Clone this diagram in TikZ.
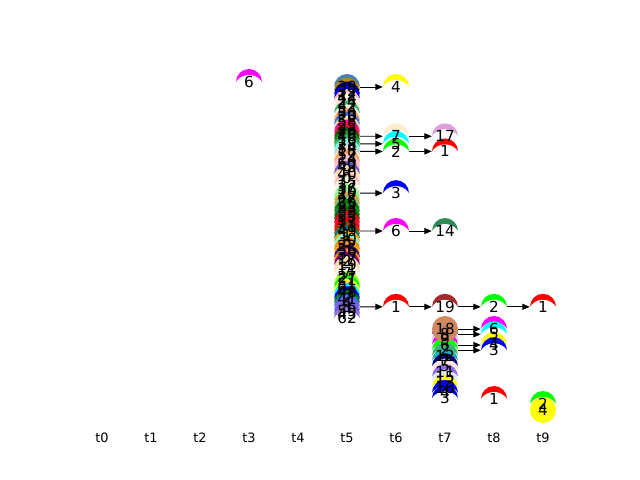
\PassOptionsToPackage{svgnames}{xcolor}
\documentclass[tikz,border=0pt]{standalone}
\usepackage{fontspec}
\setmainfont{DejaVu Sans}
\usetikzlibrary{arrows.meta}
\definecolor{peru}{RGB}{208,136,96}
\newcommand\vcover[1]{\fill[white] ([yshift=-0.255cm]#1.center) circle (0.465cm);}

\begin{document}
\begin{tikzpicture}[x=0.03cm, y=-0.03cm,
    vtx/.style={circle, inner sep=0pt, minimum size=0.78cm, fill=#1},
    lbl/.style={inner sep=0pt, font=\fontsize{13}{13}\selectfont},
    ticklbl/.style={inner sep=0pt, font=\fontsize{11}{11}\selectfont},
    conn/.style={-{Triangle[length=0.22cm, width=0.18cm]}, line width=0.8pt}]
    \useasboundingbox (0,0) rectangle (640,480);

    \def\colfive{38/SteelBlue, 32/DarkGoldenrod, 12/Navy, 44/Blue, 24/Pink, 42/OldLace, 54/MistyRose,
      50/MediumSeaGreen, 20/Beige, 58/SandyBrown, 25/RoyalBlue, 23/Wheat, 29/DeepPink, 46/Crimson,
      16/DarkGreen, 28/ForestGreen, 34/MediumSeaGreen, 18/Aquamarine, 52/LightBlue, 14/PeachPuff,
      60/SandyBrown, 43/Pink, 9/LightPink, 40/SlateBlue, 0/Wheat, 15/Bisque, 37/LightPink, 36/Beige,
      10/OldLace, 47/PaleGreen, 26/LightGreen, 55/Goldenrod, 33/DarkSeaGreen, 53/Green, 35/ForestGreen,
      57/DarkGreen, 13/Red, 31/Crimson, 49/Red, 1/SaddleBrown, 30/Teal, 5/Orange, 22/Aquamarine,
      56/DarkOrange, 39/Orange, 17/Indigo, 2/DarkOrange, 19/Purple, 11/Wheat, 7/PeachPuff, 27/Beige,
      21/White, 51/GreenYellow, 61/Lime, 48/Yellow, 6/Cyan, 41/Blue, 4/Green, 8/RoyalBlue,
      59/MediumSlateBlue, 45/SlateBlue, 62/MediumPurple}
    \def\colseven{8/MediumBlue, 9/Thistle, 6/Magenta, 2/Lime, 12/MediumSeaGreen, 7/LightSeaGreen,
      5/Navy, 11/MistyRose, 15/MediumPurple, 13/Lavender, 16/Yellow, 4/Blue, 3/MediumBlue}

    \node[vtx=Magenta] (b6) at (249, 82) {}; \vcover{b6}

    \foreach \lab/\col [count=\k from 0] in \colfive {
        \node[vtx=\col] (c\k) at (347, {87+3.79*\k}) {}; \vcover{c\k}
    }

    \node[vtx=Yellow] (e4) at (396, 87) {}; \vcover{e4}
    \node[vtx=BlanchedAlmond] (e7) at (396, 136.27) {}; \vcover{e7}
    \node[vtx=Cyan] (e5) at (396, 143.85) {}; \vcover{e5}
    \node[vtx=Lime] (e2) at (396, 151.43) {}; \vcover{e2}
    \node[vtx=Blue] (e3) at (396, 193.12) {}; \vcover{e3}
    \node[vtx=Magenta] (e6) at (396, 231.02) {}; \vcover{e6}
    \node[vtx=Red] (e1) at (396, 306.82) {}; \vcover{e1}

    \node[vtx=Plum] (f17) at (445, 136.27) {}; \vcover{f17}
    \node[vtx=Red] (f1) at (445, 151.43) {}; \vcover{f1}
    \node[vtx=SeaGreen] (f14) at (445, 231.02) {}; \vcover{f14}
    \node[vtx=Brown] (f19) at (445, 306.82) {}; \vcover{f19}

    \foreach \lab/\col [count=\j from 1] in \colseven {
        \node[vtx=\col] (d\j) at (445, {329+5.33*\j}) {}; \vcover{d\j}
    }
    \node[vtx=peru] (d0) at (445, 329) {};

    \node[vtx=Lime] (g2) at (494, 306.82) {}; \vcover{g2}
    \node[vtx=Magenta] (g6) at (494, 329) {}; \vcover{g6}
    \node[vtx=Cyan] (g5) at (494, 334.33) {}; \vcover{g5}
    \node[vtx=Yellow] (g4) at (494, 344.99) {}; \vcover{g4}
    \node[vtx=Blue] (g3) at (494, 350.32) {}; \vcover{g3}
    \node[vtx=Red] (g1) at (494, 399) {}; \vcover{g1}

    \node[vtx=Red] (h1) at (543, 306.82) {}; \vcover{h1}
    \node[vtx=Lime] (h2) at (543, 404) {}; \vcover{h2}
    \node[vtx=Yellow] (h4) at (543, 410) {};

    \draw[conn] (c0) -- (e4);
    \draw[conn] (c13) -- (e7);
    \draw[conn] (c15) -- (e5);
    \draw[conn] (c17) -- (e2);
    \draw[conn] (c28) -- (e3);
    \draw[conn] (c38) -- (e6);
    \draw[conn] (c58) -- (e1);
    \draw[conn] (e7) -- (f17);
    \draw[conn] (e2) -- (f1);
    \draw[conn] (e6) -- (f14);
    \draw[conn] (e1) -- (f19);
    \draw[conn] (f19) -- (g2);
    \draw[conn] (g2) -- (h1);
    \draw[conn] (d0) -- (g6);
    \draw[conn] (d1) -- (g5);
    \draw[conn] (d3) -- (g4);
    \draw[conn] (d4) -- (g3);

    \foreach \lab/\col [count=\k from 0] in \colfive
        \node[lbl] (c\k-l) at (c\k) {\lab};
    \foreach \lab/\col [count=\j from 1] in \colseven
        \node[lbl] (d\j-l) at (d\j) {\lab};
    \foreach \n/\t in {b6/6, e4/4, e7/7, e5/5, e2/2, e3/3, e6/6, e1/1, f17/17, f1/1, f14/14, f19/19,
        d0/18, g2/2, g6/6, g5/5, g4/4, g3/3, g1/1, h1/1, h2/2, h4/4}
        \node[lbl] (\n-l) at (\n) {\t};

    \foreach \i in {0,...,9}
        \node[ticklbl] (tick\i) at ({102+49*\i}, 438) {t\i};
\end{tikzpicture}
\end{document}
